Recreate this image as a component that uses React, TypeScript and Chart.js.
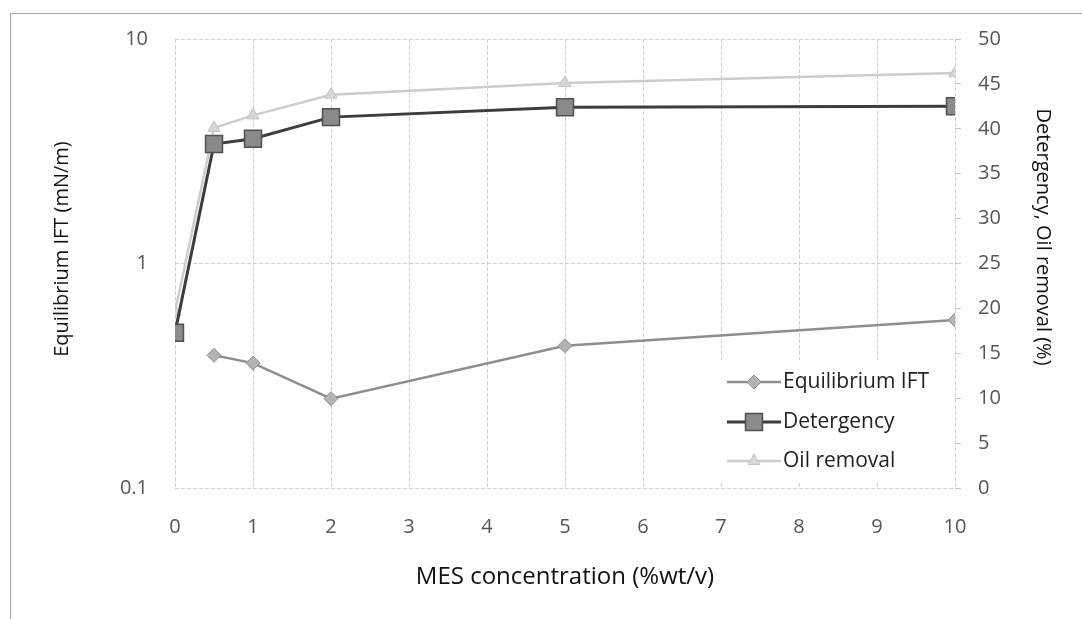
import React, { useEffect, useRef } from "react";
import { Chart, registerables } from "chart.js";
import { drawPoint } from "chart.js/helpers";

Chart.register(...registerables);

// MES concentration (%wt/v) for each series
const iftConc = [0.5, 1, 2, 5, 10];
const iftValues = [0.39, 0.36, 0.25, 0.43, 0.56]; // mN/m (log axis)

const removalConc = [0, 0.5, 1, 2, 5, 10];
const detergencyValues = [17.3, 38.3, 38.9, 41.3, 42.4, 42.5]; // %
const oilRemovalValues = [19.6, 40.1, 41.5, 43.8, 45.1, 46.2]; // %

const logTicks = [0.1, 1, 10];
const seriesNames = ["Equilibrium IFT", "Detergency", "Oil removal"];
const leftTitle = "Equilibrium IFT (mN/m)";
const rightTitle = "Detergency, Oil removal (%)";
const bottomTitle = "MES concentration (%wt/v)";

const FONT = "'Open Sans', Lato, sans-serif";

const pairs = (xs: number[], ys: number[]) => xs.map((x, i) => ({ x, y: ys[i] }));

// Vertical axis titles, set slightly above the plot's middle
const sideTitles = {
  id: "sideTitles",
  afterDraw(chart: any) {
    const ctx = chart.ctx;
    ctx.save();
    ctx.fillStyle = "#111111";
    ctx.font = `20px ${FONT}`;
    ctx.textAlign = "center";
    ctx.textBaseline = "middle";
    ctx.translate(62, 249);
    ctx.rotate(-Math.PI / 2);
    ctx.fillText(leftTitle, 0, 0);
    ctx.restore();

    ctx.save();
    ctx.fillStyle = "#111111";
    ctx.font = `20px ${FONT}`;
    ctx.textAlign = "center";
    ctx.textBaseline = "middle";
    ctx.translate(1043, 237);
    ctx.rotate(Math.PI / 2);
    ctx.fillText(rightTitle, 0, 0);
    ctx.restore();
  },
};

// Legend drawn inside the plot area, lower right
const insideLegend = {
  id: "insideLegend",
  afterDraw(chart: any) {
    const ctx = chart.ctx;
    const area = chart.chartArea;
    const boxLeft = 718;
    const boxTop = 360;
    const boxRight = area.right - 6;
    const boxBottom = area.bottom - 6;
    ctx.save();
    ctx.fillStyle = "#ffffff";
    ctx.fillRect(boxLeft, boxTop, boxRight - boxLeft, boxBottom - boxTop);
    const rowY = [382, 422, 461];
    chart.data.datasets.forEach((ds: any, i: number) => {
      const y = rowY[i];
      const x0 = 727;
      const x1 = 781;
      ctx.strokeStyle = ds.borderColor;
      ctx.lineWidth = ds.borderWidth;
      ctx.beginPath();
      ctx.moveTo(x0, y);
      ctx.lineTo(x1, y);
      ctx.stroke();
      ctx.fillStyle = ds.pointBackgroundColor;
      ctx.strokeStyle = ds.pointBorderColor;
      ctx.lineWidth = ds.pointBorderWidth;
      drawPoint(
        ctx,
        { pointStyle: ds.pointStyle, radius: ds.pointRadius, rotation: 0, borderWidth: ds.pointBorderWidth },
        (x0 + x1) / 2,
        y
      );
      ctx.fillStyle = "#222222";
      ctx.font = `21px ${FONT}`;
      ctx.textBaseline = "middle";
      ctx.textAlign = "left";
      ctx.fillText(seriesNames[i], x1 + 2, y);
    });
    ctx.restore();
  },
};

export default function App() {
  const canvasRef = useRef<HTMLCanvasElement | null>(null);

  useEffect(() => {
    if (!canvasRef.current) return;
    const gridColor = "#cfcfcf";
    const gridDash = [4, 2];
    const tickFont = { family: FONT, size: 20 };
    const chart = new Chart(canvasRef.current, {
      type: "line",
      data: {
        datasets: [
          {
            label: seriesNames[0],
            data: pairs(iftConc, iftValues),
            yAxisID: "y",
            borderColor: "#8e8e8e",
            borderWidth: 2.5,
            pointStyle: "rectRot",
            pointRadius: 7,
            pointBackgroundColor: "#b4b4b4",
            pointBorderColor: "#8e8e8e",
            pointBorderWidth: 1,
          },
          {
            label: seriesNames[1],
            data: pairs(removalConc, detergencyValues),
            yAxisID: "y1",
            borderColor: "#3c3c3c",
            borderWidth: 3,
            pointStyle: "rect",
            pointRadius: 12,
            pointBackgroundColor: "#8a8a8a",
            pointBorderColor: "#505050",
            pointBorderWidth: 1.5,
          },
          {
            label: seriesNames[2],
            data: pairs(removalConc, oilRemovalValues),
            yAxisID: "y1",
            borderColor: "#cdcdcd",
            borderWidth: 2.5,
            pointStyle: "triangle",
            pointRadius: 7,
            pointBackgroundColor: "#d6d6d6",
            pointBorderColor: "#c4c4c4",
            pointBorderWidth: 1,
          },
        ],
      },
      options: {
        animation: false,
        responsive: false,
        layout: { padding: { top: 39, left: 0, right: 0, bottom: 0 } },
        plugins: {
          legend: { display: false },
          tooltip: { enabled: false },
        },
        scales: {
          x: {
            type: "linear",
            min: 0,
            max: 10,
            ticks: { stepSize: 1, padding: 27, color: "#555555", font: tickFont },
            grid: { color: gridColor, drawTicks: false },
            border: { display: false, dash: gridDash },
            title: {
              display: true,
              text: bottomTitle,
              color: "#111111",
              font: { family: FONT, size: 24 },
              padding: { top: 0, bottom: 27 },
            },
            afterFit: (s: any) => {
              s.height = 131;
            },
          },
          y: {
            type: "logarithmic",
            position: "left",
            min: 0.1,
            max: 10,
            afterBuildTicks: (s: any) => {
              s.ticks = logTicks.map((v) => ({ value: v }));
            },
            ticks: {
              padding: 27,
              color: "#555555",
              font: tickFont,
              callback: (v: any) => String(v),
            },
            grid: { color: gridColor, drawTicks: false },
            border: { display: false, dash: gridDash },
            afterFit: (s: any) => {
              s.width = 175;
            },
          },
          y1: {
            type: "linear",
            position: "right",
            min: 0,
            max: 50,
            ticks: { stepSize: 5, padding: 17, color: "#555555", font: tickFont },
            grid: { drawOnChartArea: false, drawTicks: true, tickLength: 6, color: "#c4c4c4" },
            border: { display: false },
            afterFit: (s: any) => {
              s.width = 127;
            },
          },
        },
      },
      plugins: [insideLegend, sideTitles],
    });
    return () => chart.destroy();
  }, []);

  return (
    <div style={{ position: "absolute", left: 0, top: 0, width: 1082, height: 619, background: "#ffffff" }}>
      <canvas ref={canvasRef} width={1082} height={619} style={{ position: "absolute", left: 0, top: 0 }} />
      <div
        style={{
          position: "absolute",
          left: 10,
          top: 13,
          right: 0,
          bottom: 0,
          borderLeft: "1px solid #a8a8a8",
          borderTop: "1px solid #a8a8a8",
          pointerEvents: "none",
        }}
      />
    </div>
  );
}
